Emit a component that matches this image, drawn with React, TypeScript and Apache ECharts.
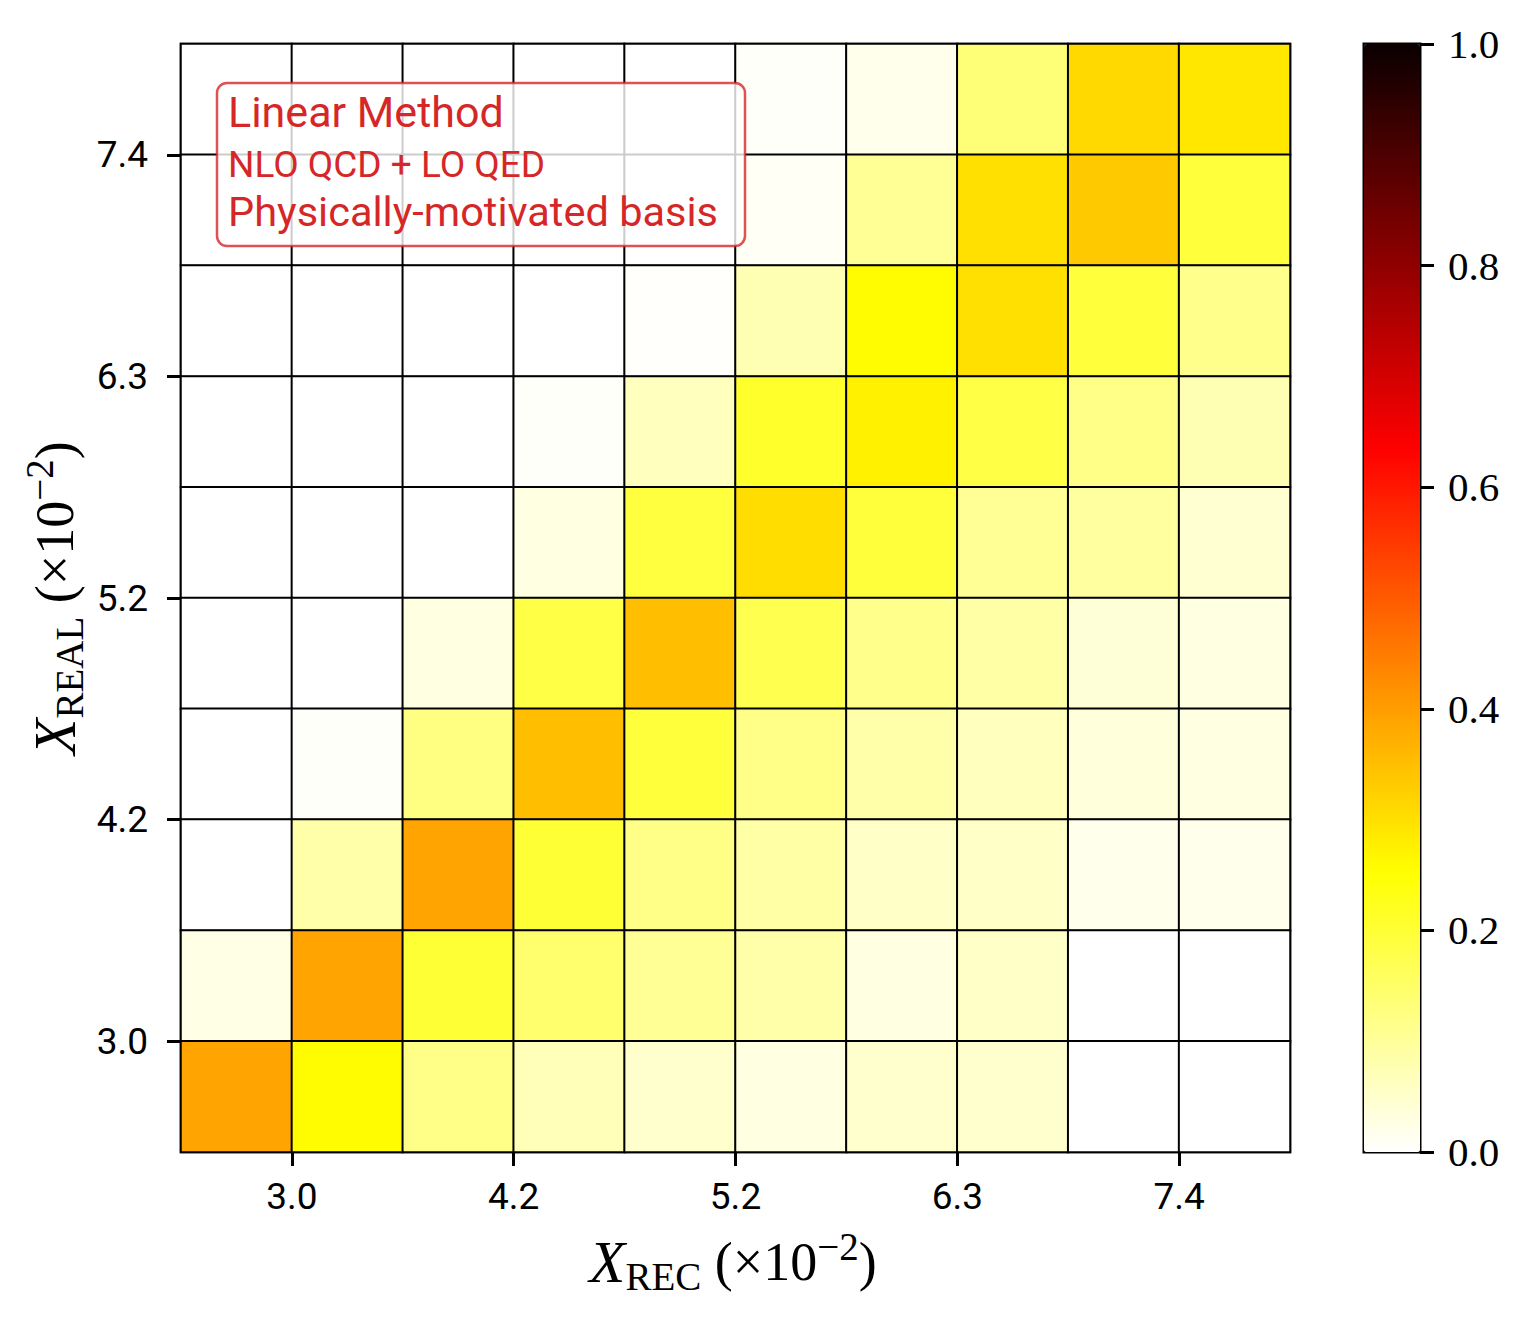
import React, { useEffect, useRef } from 'react';
import * as echarts from 'echarts';

// Bin indices of the reconstructed (x) and real (y) distributions
const recBins = ['0', '1', '2', '3', '4', '5', '6', '7', '8', '9'];
const realBins = ['0', '1', '2', '3', '4', '5', '6', '7', '8', '9'];

// Tick positions (bin boundaries) and their labels (x 10^-2)
const tickBoundaries = [1, 3, 5, 7, 9];
const tickLabels = ['3.0', '4.2', '5.2', '6.3', '7.4'];

// Colorbar ticks
const colorbarTicks = [0, 0.2, 0.4, 0.6, 0.8, 1.0];

// Annotation lines
const annotationLines = ['Linear Method', 'NLO QCD + LO QED', 'Physically-motivated basis'];

// Migration matrix, rows from top (highest X_REAL bin) to bottom, columns left to right (X_REC bins)
const row9 = [0, 0, 0, 0, 0, 0.005, 0.02, 0.135, 0.31, 0.29];
const row8 = [0, 0, 0, 0, 0, 0.01, 0.105, 0.3, 0.335, 0.195];
const row7 = [0, 0, 0, 0, 0.003, 0.075, 0.26, 0.3, 0.195, 0.115];
const row6 = [0, 0, 0, 0.005, 0.065, 0.21, 0.275, 0.185, 0.12, 0.075];
const row5 = [0, 0, 0, 0.03, 0.19, 0.305, 0.195, 0.105, 0.095, 0.045];
const row4 = [0, 0, 0.03, 0.185, 0.35, 0.175, 0.115, 0.09, 0.04, 0.03];
const row3 = [0, 0.005, 0.125, 0.35, 0.195, 0.12, 0.085, 0.065, 0.035, 0.03];
const row2 = [0, 0.085, 0.39, 0.2, 0.12, 0.09, 0.055, 0.055, 0.02, 0.02];
const row1 = [0.025, 0.39, 0.2, 0.145, 0.105, 0.085, 0.03, 0.055, 0, 0];
const row0 = [0.39, 0.26, 0.12, 0.07, 0.05, 0.03, 0.05, 0.05, 0, 0];
const rowsTopToBottom = [row9, row8, row7, row6, row5, row4, row3, row2, row1, row0];

// matplotlib "hot_r" colormap definition
function clamp(x: number) {
  return Math.max(0, Math.min(1, x));
}
function hotR(v: number) {
  const t = 1 - v;
  const r = t < 0.365079 ? 0.0416 + (1 - 0.0416) * (t / 0.365079) : 1;
  const g = clamp((t - 0.365079) / (0.746032 - 0.365079));
  const b = clamp((t - 0.746032) / (1 - 0.746032));
  return `rgb(${Math.round(r * 255)},${Math.round(g * 255)},${Math.round(b * 255)})`;
}
const hotRColors: string[] = [];
for (let i = 0; i <= 100; i++) hotRColors.push(hotR(i / 100));

export default function App() {
  const ref = useRef<HTMLDivElement>(null);

  useEffect(() => {
    if (!ref.current) return;
    const chart = echarts.init(ref.current, null, { renderer: 'svg' });

    const data: [number, number, number][] = [];
    rowsTopToBottom.forEach((row, i) => {
      const y = rowsTopToBottom.length - 1 - i;
      row.forEach((v, x) => data.push([x, y, v]));
    });

    const tickFmt = (val: number) => {
      const idx = tickBoundaries.indexOf(Math.round(val));
      return idx >= 0 ? tickLabels[idx] : '';
    };

    const sansFont = 'Roboto';
    const serifFont = 'Liberation Serif';
    const red = '#d62728';

    const titleRich = {
      i: { fontFamily: serifFont, fontStyle: 'italic', fontSize: 59, fill: '#000' },
      s: { fontFamily: serifFont, fontSize: 39, padding: [28, 0, 0, 0], fill: '#000' },
      n: { fontFamily: serifFont, fontSize: 54, fill: '#000' },
      p: { fontFamily: serifFont, fontSize: 39, padding: [0, 0, 32, 0], fill: '#000' },
    };

    chart.setOption({
      animation: false,
      grid: [
        { left: 181, top: 44, width: 1109, height: 1108, show: true, borderColor: '#000', borderWidth: 2.5, backgroundColor: 'transparent' },
        { left: 1364, top: 44, width: 56, height: 1108, show: true, borderColor: '#000', borderWidth: 3, backgroundColor: 'transparent' },
      ],
      xAxis: [
        { type: 'category', gridIndex: 0, data: recBins, show: false },
        {
          type: 'value', gridIndex: 0, min: 0, max: 10, position: 'bottom',
          axisLine: { show: false, onZero: false },
          splitLine: { show: false },
          axisTick: { show: true, length: 14, customValues: tickBoundaries, lineStyle: { color: '#000', width: 3 } },
          axisLabel: { show: true, customValues: tickBoundaries, formatter: tickFmt, margin: 26, fontFamily: sansFont, fontSize: 37, color: '#000', lineHeight: 37 },
        },
        { type: 'value', gridIndex: 1, min: 0, max: 1, show: false },
      ],
      yAxis: [
        { type: 'category', gridIndex: 0, data: realBins, show: false },
        {
          type: 'value', gridIndex: 0, min: 0, max: 10, position: 'left',
          axisLine: { show: false, onZero: false },
          splitLine: { show: false },
          axisTick: { show: true, length: 14, customValues: tickBoundaries, lineStyle: { color: '#000', width: 3 } },
          axisLabel: { show: true, customValues: tickBoundaries, formatter: tickFmt, margin: 33, fontFamily: sansFont, fontSize: 37, color: '#000' },
        },
        {
          type: 'value', gridIndex: 1, min: 0, max: 1, interval: 0.2, position: 'right',
          axisLine: { show: false, onZero: false },
          splitLine: { show: false },
          axisTick: { show: true, length: 14, customValues: colorbarTicks, lineStyle: { color: '#000', width: 3 } },
          axisLabel: { show: true, customValues: colorbarTicks, formatter: (v: number) => v.toFixed(1), margin: 28, fontFamily: serifFont, fontSize: 41, color: '#000' },
        },
      ],
      visualMap: {
        type: 'continuous',
        min: 0,
        max: 1,
        dimension: 2,
        seriesIndex: 0,
        calculable: false,
        hoverLink: false,
        orient: 'vertical',
        left: 1364,
        top: 44,
        itemWidth: 56,
        itemHeight: 1108,
        padding: 0,
        inRange: { color: hotRColors },
      },
      series: [
        {
          type: 'heatmap',
          xAxisIndex: 0,
          yAxisIndex: 0,
          data,
          silent: true,
          itemStyle: { borderColor: '#000', borderWidth: 2 },
          emphasis: { disabled: true },
        },
        { type: 'line', xAxisIndex: 2, yAxisIndex: 2, data: [], silent: true },
        { type: 'line', xAxisIndex: 1, yAxisIndex: 1, data: [], silent: true },
      ],
      graphic: [
        {
          type: 'rect',
          z: 100,
          shape: { x: 217, y: 83, width: 528, height: 163, r: 10 },
          style: { fill: 'rgba(255,255,255,0.8)', stroke: 'rgba(214,39,40,0.8)', lineWidth: 2.5 },
        },
        { type: 'text', z: 101, x: 228, y: 112, style: { text: annotationLines[0], fill: red, fontFamily: sansFont, fontSize: 43, align: 'left', verticalAlign: 'middle' } },
        { type: 'text', z: 101, x: 228, y: 164, style: { text: annotationLines[1], fill: red, fontFamily: sansFont, fontSize: 37, align: 'left', verticalAlign: 'middle' } },
        { type: 'text', z: 101, x: 228, y: 211, style: { text: annotationLines[2], fill: red, fontFamily: sansFont, fontSize: 41.5, align: 'left', verticalAlign: 'middle' } },
        {
          type: 'text',
          x: 733,
          y: 1262,
          z: 100,
          style: {
            text: '{i|X}{s|REC}{n| (×10}{p|−2}{n|)}',
            align: 'center',
            verticalAlign: 'middle',
            fill: '#000',
            rich: titleRich,
          },
        },
        {
          type: 'text',
          x: 55,
          y: 598,
          z: 100,
          rotation: Math.PI / 2,
          style: {
            text: '{i|X}{s|REAL}{n| (×10}{p|−2}{n|)}',
            align: 'center',
            verticalAlign: 'middle',
            fill: '#000',
            rich: titleRich,
          },
        },
      ],
    });

    return () => chart.dispose();
  }, []);

  return <div ref={ref} style={{ position: 'absolute', left: 0, top: 0, width: 1531, height: 1317 }} />;
}
